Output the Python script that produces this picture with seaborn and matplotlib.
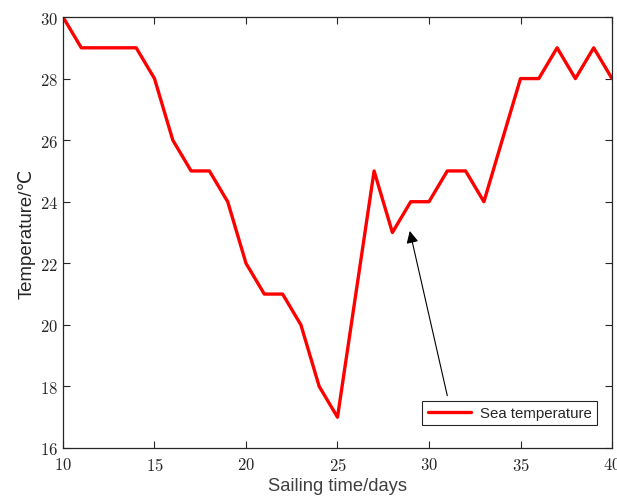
import matplotlib
matplotlib.use("Agg")
import matplotlib.pyplot as plt
import seaborn as sns
import pandas as pd

days = list(range(10, 41))
temps = [30, 29, 29, 29, 29, 28, 26, 25, 25, 24, 22, 21, 21, 20, 18, 17,
         21, 25, 23, 24, 24, 25, 25, 24, 26, 28, 28, 29, 28, 29, 28]
series_name = "Sea temperature"
x_ticks = [10, 15, 20, 25, 30, 35, 40]
y_ticks = [16, 18, 20, 22, 24, 26, 28, 30]

df = pd.DataFrame({"day": days, "temp": temps})

sns.set_theme(style="white")
plt.rcParams["font.family"] = ["Liberation Sans", "DejaVu Sans"]
plt.rcParams["mathtext.fontset"] = "cm"

fig = plt.figure(figsize=(6.17, 5.02), dpi=100)
ax = fig.add_axes([0.1021, 0.1056, 0.8898, 0.8585])

sns.lineplot(data=df, x="day", y="temp", ax=ax, color="#ff0000",
             linewidth=2.4, label=series_name)

ax.set_xlim(10, 40)
ax.set_ylim(16, 30)
ax.set_xticks(x_ticks)
ax.set_yticks(y_ticks)
ax.set_xticklabels([f"${v}$" for v in x_ticks], fontsize=12, color="#262626")
ax.set_yticklabels([f"${v}$" for v in y_ticks], fontsize=12, color="#262626")
ax.tick_params(direction="in", length=5, width=0.8, top=True, right=True,
               bottom=True, left=True, colors="#262626", labelcolor="#262626")
ax.tick_params(axis="x", pad=6)
for s in ax.spines.values():
    s.set_color("#262626")
    s.set_linewidth(0.9)

ax.set_xlabel("Sailing time/days", fontsize=13.2, color="#404040", labelpad=3)
ax.set_ylabel("Temperature/℃", fontsize=13.4, color="#262626", labelpad=3)

ax.annotate("", xy=(28.95, 23.05), xytext=(31.0, 17.7),
            arrowprops=dict(arrowstyle="-|>", color="black", lw=0.8,
                            mutation_scale=18, shrinkA=0, shrinkB=0))

leg = ax.legend(loc="lower right", bbox_to_anchor=(0.973, 0.053),
                borderaxespad=0, fancybox=False, framealpha=1,
                edgecolor="#262626", fontsize=10.8, handlelength=2.9,
                handletextpad=0.6, borderpad=0.35)
leg.get_frame().set_linewidth(0.8)

fig.savefig("out.png", dpi=100)
